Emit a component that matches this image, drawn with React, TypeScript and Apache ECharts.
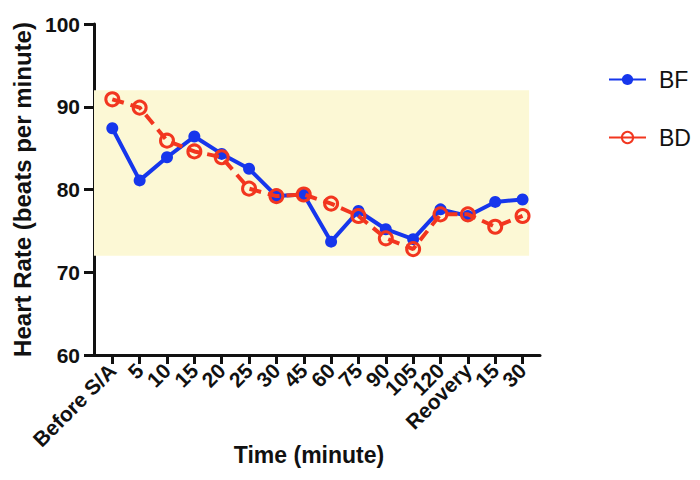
import React, { useEffect, useRef } from "react";
import * as echarts from "echarts";

// Time points along the x axis
const categories = [
  "Before S/A", "5", "10", "15", "20", "25", "30", "45", "60", "75",
  "90", "105", "120", "Reovery", "15", "30",
];

// Heart rate (beats per minute) for each group
const bfValues = [87.4, 81.1, 83.9, 86.4, 84.3, 82.5, 79.2, 79.4, 73.7, 77.4, 75.2, 74.0, 77.6, 76.8, 78.5, 78.8];
const bdValues = [90.9, 89.9, 85.9, 84.6, 83.9, 80.1, 79.2, 79.4, 78.3, 76.8, 74.1, 72.8, 77.0, 77.0, 75.5, 76.8];

// Y axis ticks and the shaded reference range
const yTicks = [60, 70, 80, 90, 100];
const normalRange = [72, 92];

const FONT = "Liberation Sans, Arial, Helvetica, sans-serif";
const BLUE = "#1636EC";
const RED = "#F2361F";
const BAND = "#FCF8D5";
const INK = "#111";

// Plot frame: the axes meet at PLOT_LEFT, the x axis runs to PLOT_RIGHT,
// and the first time point sits FIRST_OFFSET px right of the y axis.
const PLOT_LEFT = 94;
const PLOT_RIGHT = 540;
const PLOT_TOP = 24;
const PLOT_BOTTOM = 125;
const STEP = 27.35;
const FIRST_OFFSET = 18.3;

const X_MIN = -FIRST_OFFSET / STEP;
const X_MAX = X_MIN + (PLOT_RIGHT - PLOT_LEFT) / STEP;
const BAND_END = 15.24;

export default function App() {
  const ref = useRef<HTMLDivElement>(null);

  useEffect(() => {
    if (!ref.current) return;
    document.body.style.margin = "0";
    const chart = echarts.init(ref.current, undefined, { renderer: "svg" });

    // The category axis lives in its own grid, sized so each category slot
    // is centred on the matching integer of the value x axis.
    const catLeft = PLOT_LEFT + FIRST_OFFSET - STEP / 2;
    const catWidth = STEP * categories.length;

    chart.setOption({
      animation: false,
      backgroundColor: "#ffffff",
      textStyle: { fontFamily: FONT },
      grid: [
        { left: PLOT_LEFT, right: 700 - PLOT_RIGHT, top: PLOT_TOP, bottom: PLOT_BOTTOM },
        { left: catLeft, width: catWidth, top: PLOT_TOP, bottom: PLOT_BOTTOM },
      ],
      legend: {
        orient: "vertical",
        left: 603,
        top: 63,
        itemWidth: 37,
        itemHeight: 14,
        itemGap: 35,
        data: ["BF", "BD"],
        lineStyle: { type: "solid" },
        textStyle: { fontFamily: FONT, fontSize: 23, color: INK, padding: [0, 0, 0, 8] },
      },
      xAxis: [
        {
          type: "value",
          gridIndex: 0,
          min: X_MIN,
          max: X_MAX,
          name: "Time (minute)",
          nameLocation: "middle",
          nameGap: 88,
          nameTextStyle: {
            fontFamily: FONT,
            fontSize: 23,
            fontWeight: "bold",
            color: INK,
            padding: [0, 16, 0, 0],
          },
          splitLine: { show: false },
          axisLine: { show: true, onZero: false, lineStyle: { color: INK, width: 3 } },
          axisTick: { show: false },
          axisLabel: { show: false },
        },
        {
          type: "category",
          gridIndex: 1,
          data: categories,
          boundaryGap: true,
          splitLine: { show: false },
          axisLine: { show: false },
          axisTick: {
            show: true,
            alignWithLabel: true,
            interval: 0,
            length: 9,
            lineStyle: { color: INK, width: 3 },
          },
          axisLabel: {
            interval: 0,
            rotate: 45,
            margin: 12,
            fontFamily: FONT,
            fontSize: 21,
            fontWeight: "bold",
            color: INK,
          },
        },
      ],
      yAxis: [
        {
          type: "value",
          gridIndex: 0,
          min: yTicks[0],
          max: yTicks[yTicks.length - 1],
          interval: 10,
          name: "Heart Rate (beats per minute)",
          nameLocation: "middle",
          nameGap: 59,
          nameTextStyle: { fontFamily: FONT, fontSize: 24, fontWeight: "bold", color: INK },
          splitLine: { show: false },
          axisLine: { show: true, onZero: false, lineStyle: { color: INK, width: 3 } },
          axisTick: { show: true, length: 10, lineStyle: { color: INK, width: 3 } },
          axisLabel: {
            margin: 14,
            fontFamily: FONT,
            fontSize: 21,
            fontWeight: "bold",
            color: INK,
          },
        },
        {
          type: "value",
          gridIndex: 1,
          show: false,
          min: yTicks[0],
          max: yTicks[yTicks.length - 1],
        },
      ],
      series: [
        {
          name: "BF",
          type: "line",
          xAxisIndex: 0,
          yAxisIndex: 0,
          data: bfValues.map((v, i) => [i, v]),
          symbol: "circle",
          symbolSize: 12,
          z: 2,
          itemStyle: { color: BLUE },
          lineStyle: { color: BLUE, width: 4 },
          markArea: {
            silent: true,
            itemStyle: { color: BAND },
            data: [[
              { xAxis: X_MIN, yAxis: normalRange[0] },
              { xAxis: BAND_END, yAxis: normalRange[1] },
            ]],
          },
        },
        {
          name: "BD",
          type: "line",
          xAxisIndex: 0,
          yAxisIndex: 0,
          data: bdValues.map((v, i) => [i, v]),
          symbol: "circle",
          symbolSize: 13,
          z: 3,
          itemStyle: { color: "rgba(255,255,255,0)", borderColor: RED, borderWidth: 3 },
          lineStyle: { color: RED, width: 4, type: [12, 7] },
        },
      ],
    });

    return () => chart.dispose();
  }, []);

  return <div ref={ref} style={{ width: 700, height: 480 }} />;
}
